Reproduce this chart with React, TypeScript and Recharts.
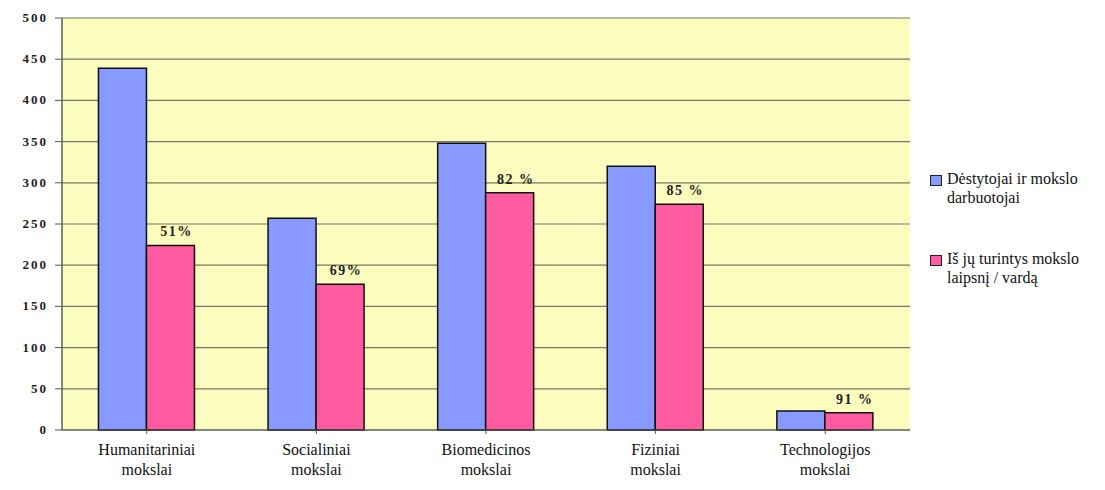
import React from "react";
import { BarChart, Bar, XAxis, YAxis, CartesianGrid, LabelList } from "recharts";

const categories = ["Humanitariniai mokslai", "Socialiniai mokslai", "Biomedicinos mokslai", "Fiziniai mokslai", "Technologijos mokslai"];
const staff = [439, 257, 348, 320, 23];
const withDegree = [224, 177, 288, 274, 21];
const shareLabels = ["51%", "69%", "82 %", "85 %", "91 %"];
const yTicks = [0, 50, 100, 150, 200, 250, 300, 350, 400, 450, 500];
const seriesNames = ["Dėstytojai ir mokslo darbuotojai", "Iš jų turintys mokslo laipsnį / vardą"];
const legendLines = [["Dėstytojai ir mokslo", "darbuotojai"], ["Iš jų turintys mokslo", "laipsnį / vardą"]];

const data = categories.map((c, i) => ({ name: c, staff: staff[i], deg: withDegree[i], label: shareLabels[i] }));

const BLUE = "#8899FF";
const PINK = "#FF5BA0";
const SERIF = "'Times New Roman', 'Liberation Serif', 'DejaVu Serif', serif";

const YTick = (props: any) => {
  const { x, y, payload } = props;
  return (
    <text x={x - 5} y={y + 4} textAnchor="end" style={{ fontFamily: SERIF, fontWeight: "bold", fontSize: 13, letterSpacing: 2 }} fill="#222">
      {payload.value}
    </text>
  );
};

const XTick = (props: any) => {
  const { x, y, payload } = props;
  const parts = String(payload.value).split(" ");
  return (
    <text x={x} y={y + 19} textAnchor="middle" style={{ fontFamily: SERIF, fontSize: 16 }} fill="#111">
      <tspan x={x} dy={0}>{parts[0]}</tspan>
      <tspan x={x} dy={20}>{parts[1]}</tspan>
    </text>
  );
};

const PctLabel = (props: any) => {
  const { x, y, width, index } = props;
  return (
    <text x={x + width / 2 + 6} y={y - 9} textAnchor="middle" style={{ fontFamily: SERIF, fontWeight: "bold", fontSize: 14, letterSpacing: 1.5 }} fill="#222">
      {shareLabels[index]}
    </text>
  );
};

const LegendBox = () => (
  <div style={{ position: "absolute", left: 930, top: 169, width: 175, fontFamily: SERIF, fontSize: 16, color: "#111", lineHeight: "19px" }}>
    {legendLines.map((lines, i) => (
      <div key={i} style={{ display: "flex", alignItems: "flex-start", marginBottom: i === 0 ? 42 : 0 }} title={seriesNames[i]}>
        <span style={{ display: "inline-block", flex: "none", width: 10, height: 9, marginTop: 6, marginRight: 5, background: i === 0 ? BLUE : PINK, border: "1px solid #222" }} />
        <div>
          {lines.map((l, j) => <div key={j}>{l}</div>)}
        </div>
      </div>
    ))}
  </div>
);

export default function App() {
  return (
    <div style={{ position: "absolute", left: 0, top: 0, width: 1105, height: 490, background: "#fff" }}>
      <BarChart width={1105} height={490} data={data} margin={{ top: 18, right: 195, bottom: 30, left: 12 }} barCategoryGap="21.5%" barGap={0}>
        <CartesianGrid vertical={false} fill="#FCFCBE" stroke="#777766" strokeWidth={1.2} />
        <XAxis dataKey="name" height={30} tick={<XTick />} tickLine={{ stroke: "#555" }} tickSize={4} axisLine={{ stroke: "#555", strokeWidth: 1.2 }} interval={0} />
        <YAxis domain={[0, 500]} ticks={yTicks} tick={<YTick />} tickLine={{ stroke: "#555" }} tickSize={7} axisLine={{ stroke: "#556655", strokeWidth: 1.5 }} width={50} interval={0} />
        <YAxis yAxisId="r" orientation="right" domain={[0, 500]} tick={false} tickLine={false} width={0} axisLine={{ stroke: "#8a9a9a", strokeWidth: 1.5 }} />
        <Bar dataKey="staff" name={seriesNames[0]} fill={BLUE} stroke="#111" strokeWidth={1.5} isAnimationActive={false} />
        <Bar dataKey="deg" name={seriesNames[1]} fill={PINK} stroke="#111" strokeWidth={1.5} isAnimationActive={false}>
          <LabelList dataKey="label" content={<PctLabel />} />
        </Bar>
      </BarChart>
      <LegendBox />
    </div>
  );
}
